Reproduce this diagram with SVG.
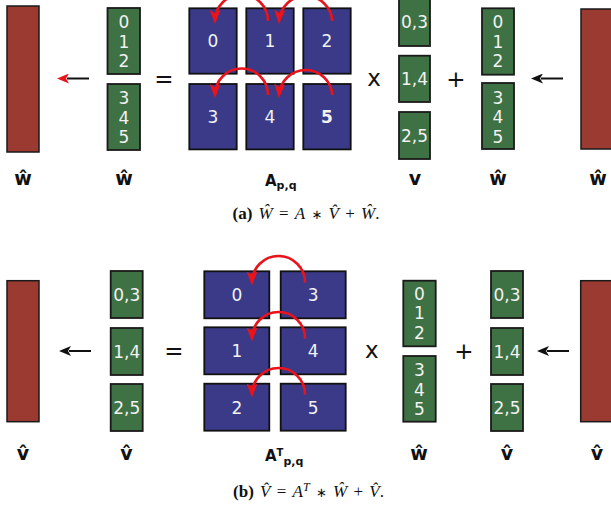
<svg xmlns="http://www.w3.org/2000/svg" width="611" height="506" viewBox="0 0 611 506">
<style>
.red{fill:#9a3a31;stroke:#1a1a1a;stroke-width:1.5}
.grn{fill:#3e7143;stroke:#1a1a1a;stroke-width:1.8}
.blu{fill:#3a3a88;stroke:#111;stroke-width:1.8}
.num{font-family:"DejaVu Sans",sans-serif;font-size:17px;fill:#f2f2f2;text-anchor:middle}
.op{font-family:"DejaVu Sans",sans-serif;font-size:23px;fill:#111;text-anchor:middle}
.lbl{font-family:"DejaVu Sans",sans-serif;font-size:19px;font-weight:bold;fill:#111;text-anchor:middle}
.albl{font-family:"DejaVu Sans",sans-serif;font-size:15px;font-weight:bold;fill:#111}
.cap{font-family:"Liberation Serif",serif;font-size:17px;fill:#111;text-anchor:middle;word-spacing:2px}
.ast{font-family:"DejaVu Sans",sans-serif;font-size:13px}
.arr{stroke:#111;stroke-width:2;fill:none}
.arc{stroke:#e8131b;stroke-width:2.6;fill:none;marker-end:url(#ah2)}
</style>
<defs>
<marker id="ahb" markerUnits="userSpaceOnUse" viewBox="0 0 12 10" markerWidth="12" markerHeight="10" refX="2" refY="5" orient="auto"><path d="M0,0 L12,5 L0,10 L3,5 Z" fill="#111"/></marker>
<marker id="ahr" markerUnits="userSpaceOnUse" viewBox="0 0 12 10" markerWidth="12" markerHeight="10" refX="2" refY="5" orient="auto"><path d="M0,0 L12,5 L0,10 L3,5 Z" fill="#e8131b"/></marker>
<marker id="ah2" markerUnits="userSpaceOnUse" viewBox="0 0 14 11" markerWidth="14" markerHeight="11" refX="11" refY="5.5" orient="auto"><path d="M0,0 L14,5.5 L0,11 L3,5.5 Z" fill="#e8131b"/></marker>
</defs>

<!-- ===== Panel (a) ===== -->
<g id="a-W-out"><rect class="red" x="7" y="6" width="32" height="146"/><text class="lbl" x="23" y="185">ŵ</text></g>
<g id="a-W-lhs">
<rect class="grn" x="107.5" y="8" width="32.5" height="66"/>
<text class="num" x="124" y="28">0</text><text class="num" x="124" y="47.5">1</text><text class="num" x="124" y="67">2</text>
<rect class="grn" x="107.5" y="84" width="32.5" height="66"/>
<text class="num" x="124" y="104">3</text><text class="num" x="124" y="123.5">4</text><text class="num" x="124" y="143">5</text>
<text class="lbl" x="124" y="185">ŵ</text>
</g>
<text class="op" x="164" y="87">=</text>
<g id="a-A">
<rect class="blu" x="189.3" y="8.3" width="47.4" height="65.4"/><text class="num" x="213" y="47">0</text>
<rect class="blu" x="246.3" y="8.3" width="47.4" height="65.4"/><text class="num" x="270" y="47">1</text>
<rect class="blu" x="303.3" y="8.3" width="47.4" height="65.4"/><text class="num" x="327" y="47">2</text>
<rect class="blu" x="189.3" y="84" width="47.4" height="65.4"/><text class="num" x="213" y="123">3</text>
<rect class="blu" x="246.3" y="84" width="47.4" height="65.4"/><text class="num" x="270" y="123">4</text>
<rect class="blu" x="303.3" y="84" width="47.4" height="65.4"/><text class="num" x="327" y="123" font-weight="bold">5</text>
<text class="albl" x="265" y="186">A<tspan font-size="11" dy="3">p,q</tspan></text>
</g>
<text class="op" x="374" y="86">x</text>
<g id="a-V">
<rect class="grn" x="399" y="-1" width="31" height="47"/><text class="num" x="414.5" y="28">0,3</text>
<rect class="grn" x="399" y="55.7" width="31" height="46.3"/><text class="num" x="414.5" y="85">1,4</text>
<rect class="grn" x="399" y="112" width="31" height="47"/><text class="num" x="414.5" y="141.5">2,5</text>
<text class="lbl" x="415" y="185">v</text>
</g>
<text class="op" x="456" y="87">+</text>
<g id="a-W-in">
<rect class="grn" x="482" y="8.3" width="32" height="66.4"/>
<text class="num" x="498" y="28">0</text><text class="num" x="498" y="47.5">1</text><text class="num" x="498" y="67">2</text>
<rect class="grn" x="482" y="83" width="32" height="66"/>
<text class="num" x="498" y="103.5">3</text><text class="num" x="498" y="123">4</text><text class="num" x="498" y="142.5">5</text>
<text class="lbl" x="498" y="185">ŵ</text>
</g>
<g id="a-W-src"><rect class="red" x="581" y="9" width="40" height="140"/><text class="lbl" x="598" y="185">ŵ</text></g>
<text class="cap" x="306" y="219"><tspan font-weight="bold">(a)</tspan> <tspan font-style="italic">Ŵ</tspan> = <tspan font-style="italic">A</tspan> <tspan class="ast">∗</tspan> <tspan font-style="italic">V̂</tspan> + <tspan font-style="italic">Ŵ</tspan>.</text>

<!-- ===== Panel (b) ===== -->
<g id="b-V-out"><rect class="red" x="7" y="280.7" width="32" height="141"/><text class="lbl" x="23" y="460">v̂</text></g>
<g id="b-V-lhs">
<rect class="grn" x="110.7" y="271" width="32" height="47"/><text class="num" x="126.7" y="300.5">0,3</text>
<rect class="grn" x="110.7" y="328" width="32" height="47"/><text class="num" x="126.7" y="357.5">1,4</text>
<rect class="grn" x="110.7" y="384" width="32" height="47"/><text class="num" x="126.7" y="413.5">2,5</text>
<text class="lbl" x="126.5" y="460">v̂</text>
</g>
<text class="op" x="174" y="359">=</text>
<g id="b-AT">
<rect class="blu" x="204.3" y="271.3" width="65" height="47"/><text class="num" x="236.8" y="301">0</text>
<rect class="blu" x="280.7" y="271.3" width="65" height="47"/><text class="num" x="313.2" y="301">3</text>
<rect class="blu" x="204.3" y="327.3" width="65" height="47"/><text class="num" x="236.8" y="357">1</text>
<rect class="blu" x="280.7" y="327.3" width="65" height="47"/><text class="num" x="313.2" y="357">4</text>
<rect class="blu" x="204.3" y="383.7" width="65" height="47"/><text class="num" x="236.8" y="413.5">2</text>
<rect class="blu" x="280.7" y="383.7" width="65" height="47"/><text class="num" x="313.2" y="413.5">5</text>
<text class="albl" x="265" y="461">A<tspan font-size="10" dy="-5">T</tspan><tspan font-size="11" dy="9">p,q</tspan></text>
</g>
<text class="op" x="371.7" y="358">x</text>
<g id="b-W">
<rect class="grn" x="403.3" y="280.7" width="32.4" height="65.6"/>
<text class="num" x="419.5" y="299.5">0</text><text class="num" x="419.5" y="319">1</text><text class="num" x="419.5" y="338.5">2</text>
<rect class="grn" x="403.3" y="356" width="32.4" height="65.7"/>
<text class="num" x="419.5" y="376">3</text><text class="num" x="419.5" y="395.5">4</text><text class="num" x="419.5" y="415">5</text>
<text class="lbl" x="419" y="460">ŵ</text>
</g>
<text class="op" x="464" y="359">+</text>
<g id="b-V-in">
<rect class="grn" x="491" y="271" width="32" height="47"/><text class="num" x="507" y="300.5">0,3</text>
<rect class="grn" x="491" y="328" width="32" height="47"/><text class="num" x="507" y="357.5">1,4</text>
<rect class="grn" x="491" y="384" width="32" height="47"/><text class="num" x="507" y="413.5">2,5</text>
<text class="lbl" x="507" y="460">v̂</text>
</g>
<g id="b-V-src"><rect class="red" x="580.7" y="280.7" width="40" height="141"/><text class="lbl" x="597" y="460">v̂</text></g>
<text class="cap" x="308.5" y="497"><tspan font-weight="bold">(b)</tspan> <tspan font-style="italic">V̂</tspan> = <tspan font-style="italic">A</tspan><tspan font-style="italic" font-size="12" dy="-6">T</tspan><tspan dy="6"> </tspan><tspan class="ast">∗</tspan> <tspan font-style="italic">Ŵ</tspan> + <tspan font-style="italic">V̂</tspan>.</text>

<!-- ===== Connectors ===== -->
<g id="connectors">
<line class="arr" x1="89" y1="78.5" x2="67" y2="78.5" marker-end="url(#ahr)"/>
<line class="arr" x1="563" y1="78.5" x2="541" y2="78.5" marker-end="url(#ahb)"/>
<line class="arr" x1="91" y1="351" x2="69" y2="351" marker-end="url(#ahb)"/>
<line class="arr" x1="569" y1="351" x2="547" y2="351" marker-end="url(#ahb)"/>
<path class="arc" d="M268,21 A26.5,26.5 0 0 0 215,21"/>
<path class="arc" d="M332.3,21 A26.7,26.7 0 0 0 279,21"/>
<path class="arc" d="M268,95 A26.5,26.5 0 0 0 215,95"/>
<path class="arc" d="M332.3,95 A26.7,26.7 0 0 0 279,95"/>
<path class="arc" d="M305,282.5 A26.5,26.5 0 0 0 252,282.5"/>
<path class="arc" d="M305,338.5 A26.5,26.5 0 0 0 252,338.5"/>
<path class="arc" d="M305,394.5 A26.5,26.5 0 0 0 252,394.5"/>
</g>
</svg>
